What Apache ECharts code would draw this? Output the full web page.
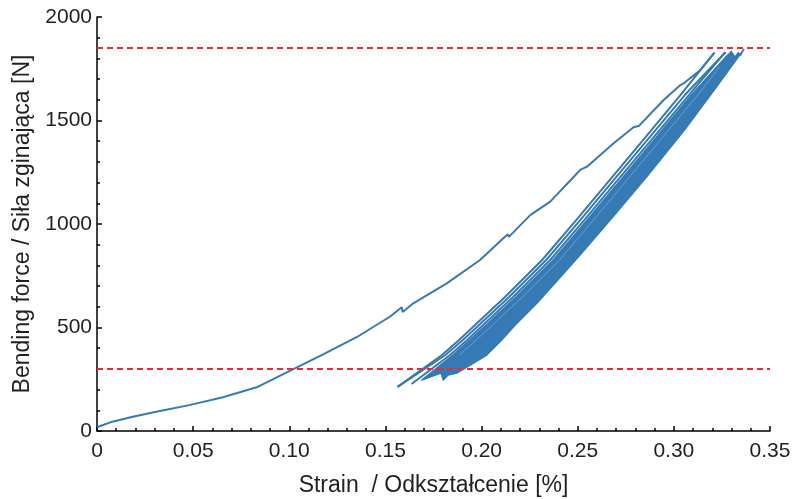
<!DOCTYPE html>
<html>
<head>
<meta charset="utf-8">
<script src="https://cdn.jsdelivr.net/npm/echarts@6/dist/echarts.min.js"></script>
<style>
  html, body { margin: 0; padding: 0; background: #fff; }
  #chart { width: 792px; height: 499px; }
</style>
</head>
<body>
<div id="chart"></div>
<script>
// strain [%], force [N]
const firstLoading = [
  [0, 18], [0.008, 45], [0.0186, 69], [0.0308, 93], [0.048, 125], [0.0655, 163],
  [0.083, 211], [0.1003, 290], [0.1176, 370], [0.135, 453], [0.1523, 552],
  [0.1585, 598], [0.159, 575], [0.1645, 617], [0.1819, 713], [0.1992, 826],
  [0.2113, 931], [0.2137, 950], [0.2142, 938], [0.2253, 1043], [0.2357, 1108],
  [0.2513, 1261], [0.2548, 1277], [0.2687, 1390], [0.279, 1467], [0.2817, 1473],
  [0.2947, 1599], [0.3034, 1671], [0.305, 1679], [0.3138, 1744], [0.3211, 1828]
];
// first cycles, still visible as separate lines
const unload1 = [
  [0.3211, 1828], [0.3034, 1623], [0.2883, 1454], [0.2753, 1309], [0.2492, 1019],
  [0.2315, 826], [0.2122, 647], [0.1966, 512], [0.1883, 440], [0.1794, 367], [0.1563, 213]
];
const load2 = [
  [0.1563, 213], [0.1812, 367], [0.1903, 440], [0.1987, 512], [0.2143, 647],
  [0.2336, 826], [0.2513, 1019], [0.2774, 1309], [0.2905, 1454], [0.3057, 1623], [0.3268, 1830]
];
const unload2 = [
  [0.3268, 1830], [0.3078, 1623], [0.2926, 1454], [0.2795, 1309], [0.2534, 1019],
  [0.2357, 826], [0.2164, 647], [0.2008, 512], [0.1925, 440], [0.1836, 367], [0.1636, 227]
];
// outline of the dense band formed by the remaining cycles
const bandOutline = [
  [0.1689, 246], [0.1851, 367], [0.1940, 440], [0.2023, 512], [0.2179, 647],
  [0.2372, 826], [0.2549, 1019], [0.2810, 1309], [0.2940, 1454], [0.3091, 1623],
  [0.3263, 1800], [0.3299, 1833], [0.3318, 1806], [0.3335, 1828], [0.3346, 1815],
  [0.3364, 1844], [0.3221, 1662], [0.3055, 1454], [0.2862, 1232], [0.2669, 1019],
  [0.2503, 841], [0.2289, 618], [0.2175, 512], [0.2105, 440], [0.2027, 367],
  [0.1872, 280], [0.1826, 271], [0.1801, 246], [0.1789, 280], [0.1732, 261]
];
// lighter trace inside the band
const bandStreak = [
  [0.1884, 367], [0.1973, 440], [0.2056, 512], [0.2212, 647], [0.2405, 826],
  [0.2582, 1019], [0.2843, 1309], [0.2973, 1454], [0.3124, 1623], [0.3240, 1760]
];
const limitLines = [1850, 300];

const blue = '#357ab5';
const textColor = '#231f20';
const font = 'Liberation Sans, Arial, Helvetica, sans-serif';

const chart = echarts.init(document.getElementById('chart'));

function cycleLine(data, color, width) {
  return {
    type: 'line', data: data, showSymbol: false, silent: true,
    lineStyle: { color: color || blue, width: width || 2 }, z: 3
  };
}

const option = {
  animation: false,
  grid: { left: 97, right: 22, top: 17, bottom: 68, outerBoundsMode: 'none', containLabel: false },
  xAxis: {
    type: 'value', min: 0, max: 0.35, interval: 0.05,
    name: 'Strain  / Odkształcenie [%]', nameLocation: 'middle', nameGap: 43,
    nameTextStyle: { fontFamily: font, fontSize: 23, color: textColor },
    axisLine: { lineStyle: { color: '#000', width: 1.5 } },
    axisTick: { inside: true, length: 5, lineStyle: { color: '#000', width: 1.5 } },
    minorTick: { show: true, splitNumber: 5, length: 3, lineStyle: { color: '#000', width: 1.5 } },
    splitLine: { show: false },
    axisLabel: {
      fontFamily: font, fontSize: 21, color: textColor, margin: 10,
      formatter: v => v === 0 ? '0' : v.toFixed(2)
    }
  },
  yAxis: {
    type: 'value', min: 0, max: 2000, interval: 500,
    name: 'Bending force / Siła zginająca [N]', nameLocation: 'middle', nameGap: 62,
    nameRotate: 90,
    nameTextStyle: { fontFamily: font, fontSize: 23, color: textColor },
    axisLine: { show: true, lineStyle: { color: '#000', width: 1.5 } },
    axisTick: { show: true, inside: true, length: 5, lineStyle: { color: '#000', width: 1.5 } },
    minorTick: { show: true, splitNumber: 5, length: 3, lineStyle: { color: '#000', width: 1.5 } },
    splitLine: { show: false },
    axisLabel: {
      fontFamily: font, fontSize: 21, color: textColor, margin: 5,
      formatter: v => String(v)
    }
  },
  series: [
    {
      type: 'custom', data: bandOutline, silent: true, z: 2,
      renderItem: function (params, api) {
        if (params.dataIndex !== 0) return;
        const pts = bandOutline.map(p => api.coord(p));
        return {
          type: 'polygon', shape: { points: pts },
          style: { fill: blue, stroke: blue, lineWidth: 1.5, lineJoin: 'round' }
        };
      }
    },
    {
      type: 'line', data: firstLoading, showSymbol: false, silent: true,
      lineStyle: { color: blue, width: 2 }, z: 3,
      markLine: {
        symbol: 'none', silent: true, label: { show: false },
        lineStyle: { color: '#ec2a30', type: [6, 4], width: 2 },
        data: limitLines.map(v => ({ yAxis: v }))
      }
    },
    cycleLine(unload1),
    cycleLine(load2),
    cycleLine(unload2),
    cycleLine(bandStreak, '#6a9fd0', 1)
  ]
};

chart.setOption(option);
</script>
</body>
</html>
